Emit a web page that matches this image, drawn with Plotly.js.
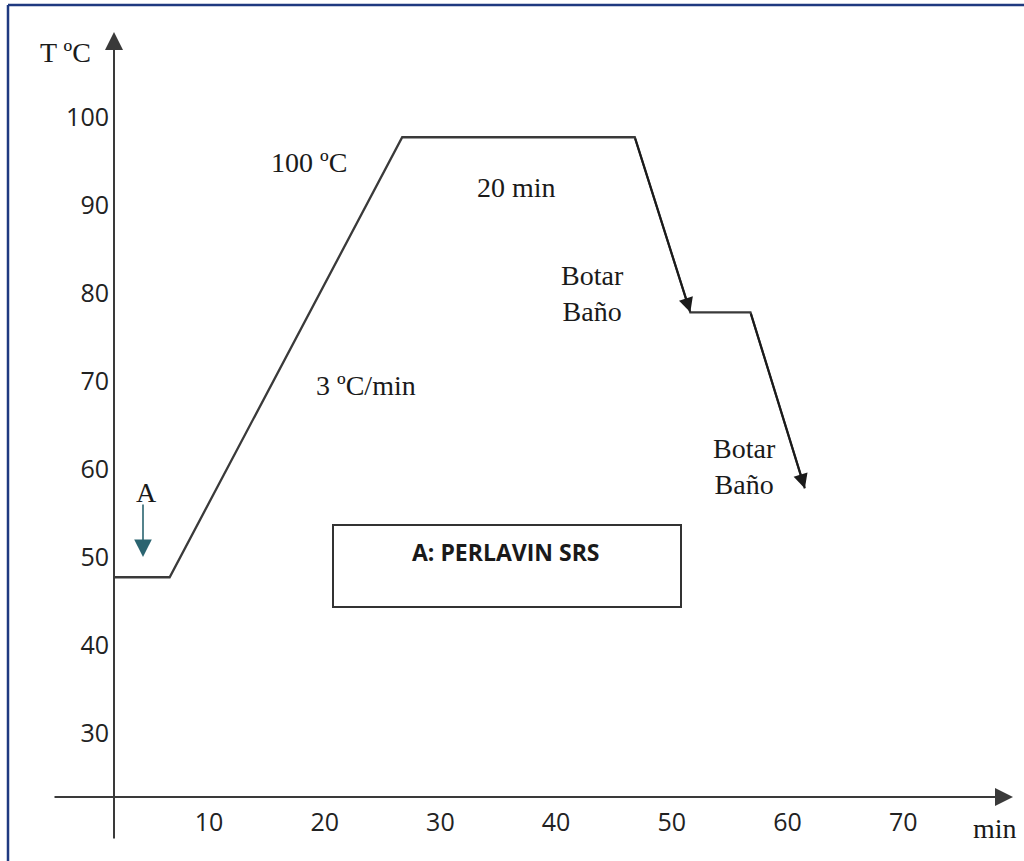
<!DOCTYPE html>
<html>
<head>
<meta charset="utf-8">
<script src="https://cdn.plot.ly/plotly-3.0.1.min.js"></script>
<style>html,body{margin:0;padding:0;background:#fff;}#chart{width:1024px;height:861px;}</style>
</head>
<body>
<div id="chart"></div>
<script>
// ---- data ----
const times = [1.8, 6.6, 26.7, 46.8, 51.6, 56.8, 61.5];      // min
const temps = [47.7, 47.7, 97.7, 97.7, 77.8, 77.8, 57.8];    // ºC
const arrowEnds = [4, 6];                                    // segments ending in an arrowhead
const xTicks = [10, 20, 30, 40, 50, 60, 70];
const yTicks = [30, 40, 50, 60, 70, 80, 90, 100];
const xLabel = "min";
const yLabel = "T ºC";
const notes = ["100 ºC", "20 min", "3 ºC/min", "Botar<br>Baño", "Botar<br>Baño", "A"];
const boxText = "A: PERLAVIN SRS";

// ---- layout helpers (pixel -> paper) ----
const L = 114, R = 1013, T = 32, B = 797;
const W = R - L, H = B - T;
const px = v => (v - L) / W;
const py = v => 1 - (v - T) / H;

const serif = {family: "Liberation Serif, Times New Roman, serif", size: 28, color: "#1a1a1a"};
const lineCol = "#3a3a3a";

const trace = {
  type: "scatter", mode: "lines",
  x: times, y: temps,
  line: {color: lineCol, width: 2.3},
  cliponaxis: false, hoverinfo: "skip", showlegend: false
};

const annotations = [];
// axis arrows
annotations.push({xref: "paper", yref: "paper", x: px(114), y: py(32), ax: 0, ay: 808,
  text: "", showarrow: true, arrowhead: 2, arrowsize: 1.8, arrowwidth: 2, arrowcolor: lineCol, standoff: 0});
annotations.push({xref: "paper", yref: "paper", x: px(1013), y: py(797), ax: -960, ay: 0,
  text: "", showarrow: true, arrowhead: 2, arrowsize: 1.8, arrowwidth: 2, arrowcolor: lineCol, standoff: 0});
// arrowheads on the cooling segments (from the data arrays)
arrowEnds.forEach(i => {
  annotations.push({xref: "x", yref: "y", axref: "x", ayref: "y",
    x: times[i], y: temps[i], ax: times[i - 1], ay: temps[i - 1],
    text: "", showarrow: true, arrowhead: 2, arrowsize: 1.45, arrowwidth: 2, arrowcolor: "#1a1a1a", standoff: 0});
});
// teal "A" arrow
annotations.push({xref: "paper", yref: "paper", x: px(143), y: py(557), ax: 0, ay: -54,
  text: "", showarrow: true, arrowhead: 2, arrowsize: 2.2, arrowwidth: 1.6, arrowcolor: "#2b6470", standoff: 0});

// text labels
const textPos = [[309, 162], [516, 188], [366, 385], [592, 293], [744, 466], [146, 492]];
const center = {xanchor: "center", yanchor: "middle", showarrow: false, xref: "paper", yref: "paper"};
notes.forEach((t, k) => {
  annotations.push(Object.assign({x: px(textPos[k][0]), y: py(textPos[k][1]), text: t, font: serif}, center));
});
annotations.push(Object.assign({x: px(65), y: py(52), text: yLabel, font: serif}, center));
annotations.push(Object.assign({x: px(995), y: py(828), text: xLabel, font: serif}, center));
annotations.push(Object.assign({x: px(506), y: py(552), text: "<b>" + boxText + "</b>",
  font: {family: "Open Sans, sans-serif", size: 23, color: "#1a1a1a"}}, center));

const shapes = [
  // page frame (top and left edges)
  {type: "line", xref: "paper", yref: "paper", x0: px(8), y0: py(5), x1: px(1030), y1: py(5), line: {color: "#1f3a80", width: 2.5}},
  {type: "line", xref: "paper", yref: "paper", x0: px(8), y0: py(5), x1: px(8), y1: py(870), line: {color: "#1f3a80", width: 2.5}},
  // box
  {type: "rect", xref: "paper", yref: "paper", x0: px(333), y0: py(525), x1: px(681), y1: py(607), line: {color: "#333", width: 2}}
];

const layout = {
  width: 1024, height: 861,
  margin: {l: L, r: 1024 - R, t: T, b: 861 - B, pad: 0},
  paper_bgcolor: "#fff", plot_bgcolor: "#fff",
  showlegend: false,
  xaxis: {range: [1.79, 79.49], tickvals: xTicks, ticktext: xTicks.map(String), showgrid: false, zeroline: false,
    showline: false, ticks: "", fixedrange: true, ticklabelstandoff: 8,
    tickfont: {family: "Open Sans, sans-serif", size: 25, color: "#222"}},
  yaxis: {range: [22.73, 109.66], tickvals: yTicks, ticktext: yTicks.map(String), showgrid: false, zeroline: false,
    showline: false, ticks: "", fixedrange: true, ticklabelstandoff: 4,
    tickfont: {family: "Open Sans, sans-serif", size: 25, color: "#222"}},
  annotations: annotations,
  shapes: shapes
};

Plotly.newPlot("chart", [trace], layout, {staticPlot: true, displayModeBar: false});
</script>
</body>
</html>
